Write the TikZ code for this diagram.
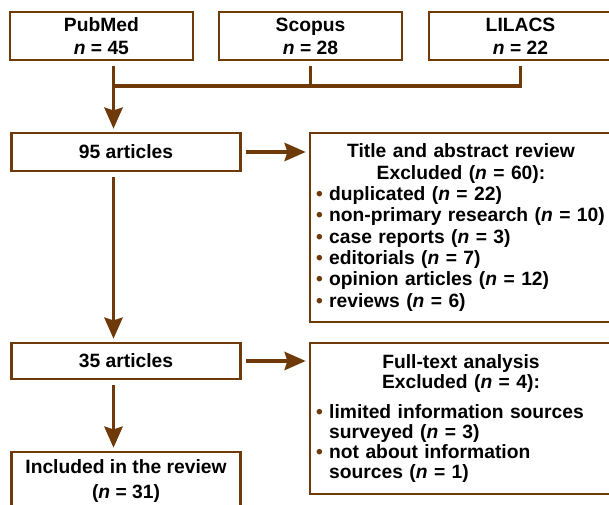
\documentclass[tikz,border=0pt]{standalone}
\usepackage{xcolor}
\usepackage{fontspec}
\setmainfont{Liberation Sans}
\usetikzlibrary{positioning, arrows.meta}
\definecolor{PRBrown}{RGB}{110,58,10}
\newcommand{\bul}{\textcolor{PRBrown}{\textbullet}\ }
\newcommand{\hangbul}{\phantom{\bul}}

\begin{document}
\begin{tikzpicture}[
          fb/.style={rectangle, draw=PRBrown, line width=1.6pt, fill=white,
                     align=center, inner sep=0pt,
                     font=\fontsize{13.7}{16.3}\selectfont\bfseries},
          lb/.style={fb, align=left, inner xsep=0.15cm, text width=7.25cm},
          arr/.style={-{Stealth[length=15pt, width=13pt, inset=2pt]}, draw=PRBrown,
                      line width=2.3pt, shorten <=0.12cm, shorten >=0.08cm},
          link/.style={draw=PRBrown, line width=2.3pt}
        ]
        \useasboundingbox (0,0) rectangle (15.225,12.6);

        % databases
        \node[fb, minimum width=4.58cm, minimum height=1.2cm]
              (pubmed) at (2.535, 11.7) {PubMed\\\textit{n} = 45};
        \node[fb, minimum width=4.58cm, minimum height=1.2cm]
              (scopus) at (7.7625, 11.7) {Scopus\\\textit{n} = 28};
        \node[fb, minimum width=4.58cm, minimum height=1.2cm]
              (lilacs) at (13.0125, 11.7) {LILACS\\\textit{n} = 22};

        % main column
        \node[fb, minimum width=5.72cm, minimum height=0.95cm]
              (a95) at (3.15, 8.8) {95 articles};
        \node[fb, minimum width=5.72cm, minimum height=0.9cm]
              (a35) at (3.15, 3.575) {35 articles};
        \node[fb, minimum width=5.72cm, minimum height=1.45cm,
              font=\fontsize{13.7}{17.7}\selectfont\bfseries]
              (included) at (3.15, 0.575) {Included in the review\\(\textit{n} = 31)};

        % exclusions
        \node[lb, minimum width=7.55cm, minimum height=4.725cm,
              font=\fontsize{13.7}{15.2}\selectfont\bfseries]
              (title) at (11.525, 6.9125) {%
              {\centering Title and abstract review\\Excluded (\textit{n} = 60):\par}
              \bul duplicated (\textit{n} = 22)\\
              \bul non-primary research (\textit{n} = 10)\\
              \bul case reports (\textit{n} = 3)\\
              \bul editorials (\textit{n} = 7)\\
              \bul opinion articles (\textit{n} = 12)\\
              \bul reviews (\textit{n} = 6)};
        \node[lb, minimum width=7.55cm, minimum height=3.775cm,
              font=\fontsize{13.7}{14.2}\selectfont\bfseries]
              (fulltext) at (11.525, 2.1375) {%
              {\centering Full-text analysis\\Excluded (\textit{n} = 4):\par}
              \vspace{7pt}
              \bul limited information sources\\
              \hangbul surveyed (\textit{n} = 3)\\
              \bul not about information\\
              \hangbul sources (\textit{n} = 1)};

        \coordinate (join) at (2.8375, 10.45);

        \draw[link, shorten <=0.12cm] (scopus.south) -- (scopus.south |- join);
        \draw[link, shorten <=0.12cm] (lilacs.south) -- (lilacs.south |- join) -- (join);
        \draw[arr] (pubmed.south -| join) -- (a95.north -| join);
        \draw[arr] (a95.south -| join)    -- (a35.north -| join);
        \draw[arr] (a35.south -| join)    -- (included.north -| join);
        \draw[arr] (a95.east) -- (a95.east -| title.west);
        \draw[arr] (a35.east) -- (a35.east -| fulltext.west);
      \end{tikzpicture}
\end{document}
